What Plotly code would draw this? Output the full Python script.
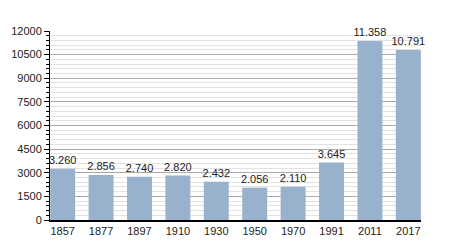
import plotly.graph_objects as go

years = ["1857", "1877", "1897", "1910", "1930", "1950", "1970", "1991", "2011", "2017"]
population = [3260, 2856, 2740, 2820, 2432, 2056, 2110, 3645, 11358, 10791]
y_ticks = [0, 1500, 3000, 4500, 6000, 7500, 9000, 10500, 12000]

fig = go.Figure(go.Bar(
    x=years, y=population,
    marker=dict(color="#98b1cd", line=dict(width=0)),
    texttemplate="%{y:,}", textposition="outside",
    textfont=dict(family="Liberation Sans, Arial", size=11, color="#222"),
    cliponaxis=False,
))

fig.update_layout(
    width=450, height=250,
    margin=dict(l=50, r=29, t=31, b=30),
    paper_bgcolor="white", plot_bgcolor="white",
    separators=",.",
    bargap=0.35,
    showlegend=False,
    uniformtext=dict(minsize=11, mode="show"),
    font=dict(family="Liberation Sans, Arial", size=11, color="#222"),
)
fig.update_xaxes(
    type="category", range=[-0.33, 9.33],
    showline=True, linecolor="black", linewidth=1.5,
    ticks="", showgrid=False, tickfont=dict(size=11),
)
fig.update_yaxes(
    range=[0, 12000], tickvals=y_ticks, tickformat="d",
    showline=True, linecolor="black", linewidth=1,
    ticks="outside", ticklen=5, tickcolor="black",
    showgrid=True, gridcolor="#aaaaaa", gridwidth=1,
    minor=dict(dtick=300, showgrid=True, gridcolor="#e2e2e2", ticks="outside", ticklen=3, tickcolor="black"),
    zeroline=False, tickfont=dict(size=11),
)

fig.write_html("out.html")
